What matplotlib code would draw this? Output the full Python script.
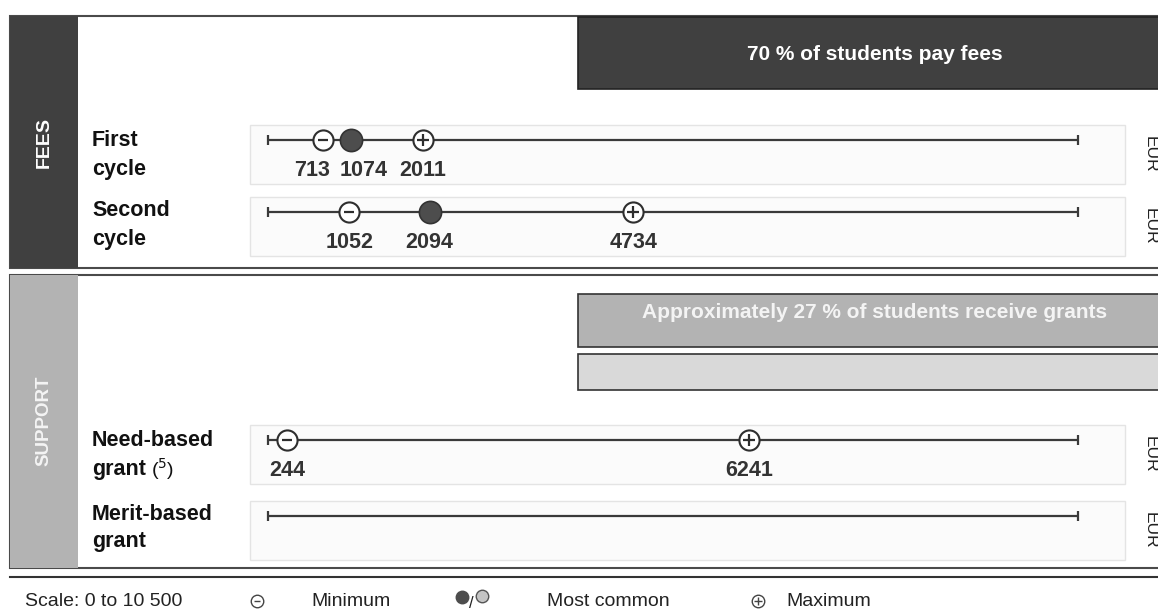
import matplotlib
matplotlib.use('Agg')
import matplotlib.pyplot as plt
from matplotlib.patches import Rectangle

# --- data ---
scale_max = 10500
row_labels = ['First\ncycle', 'Second\ncycle', 'Need-based\ngrant', 'Merit-based\ngrant']
row_notes = [None, None, '5', None]
min_vals = [713, 1052, 244, None]
mode_vals = [1074, 2094, None, None]
max_vals = [2011, 4734, 6241, None]
unit = 'EUR'
section_names = ['FEES', 'SUPPORT']
fees_note = '70 % of students pay fees'
grants_note = 'Approximately 27 % of students receive grants'
legend_scale = 'Scale: 0 to 10 500'

# --- layout (pixels) ---
W, H = 1158, 614
row_y = [140, 212, 440, 516]
label_y = [(140, 169), (211, 240), (441, 469), (514, 542)]
# small nudges for labels that would overlap (pixels)
min_dx = [-11, 0, 0, 0]
mode_dx = [13, 0, 0, 0]

SANS = ['Liberation Sans', 'DejaVu Sans']
DARK = '#404040'
MID = '#b3b3b3'
LINE = '#3a3a3a'

fig = plt.figure(figsize=(W / 100, H / 100), dpi=100)
bg = fig.add_axes([0, 0, 1, 1])
bg.set_xlim(0, W)
bg.set_ylim(H, 0)
bg.axis('off')

# panels
bg.add_patch(Rectangle((10, 16), 1170, 252, fc='white', ec='#4a4a4a', lw=1.5))
bg.add_patch(Rectangle((10, 16), 68, 252, fc=DARK, ec='none'))
bg.add_patch(Rectangle((10, 275), 1170, 293, fc='white', ec='#4a4a4a', lw=1.5))
bg.add_patch(Rectangle((10, 275), 68, 293, fc=MID, ec='none'))
bg.plot([10, W], [577, 577], color='#333333', lw=1.5)

bg.text(44, 143, section_names[0], rotation=90, ha='center', va='center',
        color='white', fontsize=14, fontweight='bold', family=SANS)
bg.text(44, 421, section_names[1], rotation=90, ha='center', va='center',
        color='#f4f4f4', fontsize=13.5, fontweight='bold', family=SANS)

# header boxes
bg.add_patch(Rectangle((578, 17), 600, 72, fc=DARK, ec='#222222', lw=1.2))
bg.text(875, 54, fees_note, ha='center', va='center', color='white',
        fontsize=15, fontweight='bold', family=SANS)
bg.add_patch(Rectangle((578, 294), 600, 53, fc=MID, ec='#333333', lw=1.2))
bg.text(875, 312, grants_note, ha='center', va='center', color='#f4f4f4',
        fontsize=15, fontweight='bold', family=SANS)
bg.add_patch(Rectangle((578, 354), 600, 36, fc='#d9d9d9', ec='#333333', lw=1.2))

# row backgrounds, labels, units
for i, y in enumerate(row_y):
    bg.add_patch(Rectangle((250, y - 15), 875, 59, fc='#fbfbfb', ec='#e4e4e4', lw=1))
    for line, ly_ in zip(row_labels[i].split('\n'), label_y[i]):
        bg.text(92, ly_, line, ha='left', va='center', fontsize=15.5,
                fontweight='bold', family=SANS, color='#111111')
    if row_notes[i]:
        bg.text(151, label_y[i][1], f'(${{}}^{{{row_notes[i]}}}$)', ha='left', va='center',
                fontsize=14, family=SANS, color='#111111')
    bg.text(1143, y + 14, unit, rotation=270, ha='left', va='center',
            fontsize=12.5, family=SANS, color='#222222')

# data axes: x spans the scale 0..scale_max
ax = fig.add_axes([268 / W, 0, 810 / W, 1])
ax.set_xlim(0, scale_max)
ax.set_ylim(H, 0)
ax.axis('off')

num_kw = dict(ha='center', va='center', fontsize=15.5, fontweight='bold',
              family=SANS, color='#333333', textcoords='offset pixels')

for i, y in enumerate(row_y):
    ax.plot([0, scale_max], [y, y], color=LINE, lw=1.6, solid_capstyle='butt', clip_on=False)
    ax.plot([0, scale_max], [y, y], ls='none', marker='|', ms=7, mew=1.6,
            color=LINE, clip_on=False)
    if min_vals[i] is not None:
        v = min_vals[i]
        ax.plot(v, y, 'o', ms=14.5, mfc='white', mec='#2e2e2e', mew=1.5, clip_on=False)
        ax.plot(v, y, marker='_', ms=7.5, mew=1.6, color='#2e2e2e', clip_on=False)
        ax.annotate(str(v), (v, y), xytext=(min_dx[i], -30), **num_kw)
    if mode_vals[i] is not None:
        v = mode_vals[i]
        ax.plot(v, y, 'o', ms=16, mfc='#4d4d4d', mec='#333333', mew=1.2, clip_on=False)
        ax.annotate(str(v), (v, y), xytext=(mode_dx[i], -30), **num_kw)
    if max_vals[i] is not None:
        v = max_vals[i]
        ax.plot(v, y, 'o', ms=14.5, mfc='white', mec='#2e2e2e', mew=1.5, clip_on=False)
        ax.plot(v, y, marker='+', ms=8, mew=1.6, color='#2e2e2e', clip_on=False)
        ax.annotate(str(v), (v, y), xytext=(0, -30), **num_kw)

# legend
ly = 601
leg_kw = dict(ha='left', va='center', fontsize=14, family=SANS, color='#222222')
bg.text(25, ly, legend_scale, **leg_kw)
bg.plot(257, ly, 'o', ms=9, mfc='white', mec='#444444', mew=1)
bg.plot(257, ly, marker='_', ms=5, mew=1, color='#444444')
bg.text(311, ly, 'Minimum', **leg_kw)
bg.plot(462, 597, 'o', ms=9, mfc='#4d4d4d', mec='#4d4d4d')
bg.text(471, 603, '/', ha='center', va='center', fontsize=12, family=SANS, color='#222222')
bg.plot(482, 596, 'o', ms=9, mfc='#c4c4c4', mec='#555555', mew=1)
bg.text(547, ly, 'Most common', **leg_kw)
bg.plot(758, ly, 'o', ms=9, mfc='white', mec='#444444', mew=1)
bg.plot(758, ly, marker='+', ms=5.5, mew=1, color='#444444')
bg.text(786, ly, 'Maximum', **leg_kw)

fig.savefig('out.png', dpi=100)
